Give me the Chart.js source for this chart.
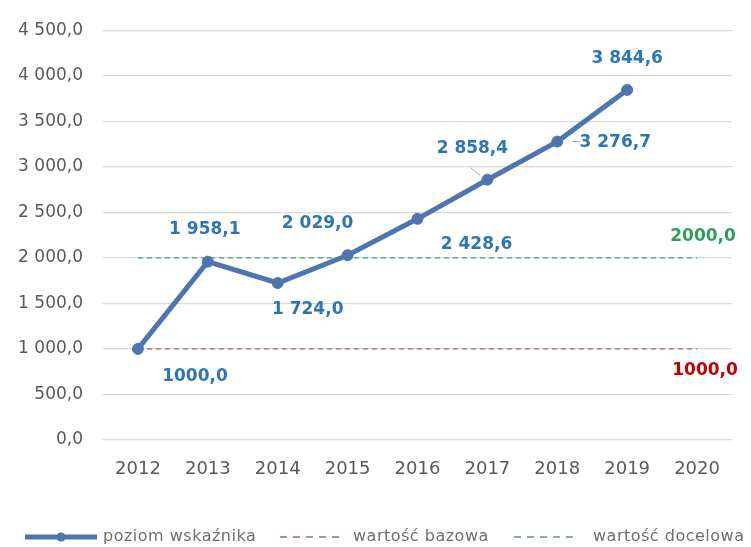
<!DOCTYPE html>
<html>
<head>
<meta charset="utf-8">
<script src="https://cdn.jsdelivr.net/npm/chart.js@4.4.1/dist/chart.umd.min.js"></script>
<style>
  html, body { margin: 0; padding: 0; background: #fff; }
  #wrap { width: 751px; height: 547px; }
</style>
</head>
<body>
<div id="wrap"><canvas id="chart" width="751" height="547"></canvas></div>
<script>
// chart data
const years = ["2012", "2013", "2014", "2015", "2016", "2017", "2018", "2019", "2020"];
const poziomWskaznika = [1000.0, 1958.1, 1724.0, 2029.0, 2428.6, 2858.4, 3276.7, 3844.6, null];
const wartoscBazowa = [1000, 1000, 1000, 1000, 1000, 1000, 1000, 1000, 1000];
const wartoscDocelowa = [2000, 2000, 2000, 2000, 2000, 2000, 2000, 2000, 2000];
const poziomLabels = ["1000,0", "1 958,1", "1 724,0", "2 029,0", "2 428,6", "2 858,4", "3 276,7", "3 844,6"];
const bazowaLabel = "1000,0";
const docelowaLabel = "2000,0";

const FONT = "'DejaVu Sans', 'Open Sans', sans-serif";
const TEXT_GREY = "#595959";
const LINE_BLUE = "#4e76ae";

// Polish number format with space grouping: 4 500,0
function plFormat(v) {
  const parts = Number(v).toFixed(1).split(".");
  const intPart = parts[0].replace(/\B(?=(\d{3})+(?!\d))/g, " ");
  return intPart + "," + parts[1];
}

// Where each data label sits relative to its point (px), plus optional leader line
const labelPlacement = [
  { dx: 57, dy: 28 },
  { dx: -3, dy: -32 },
  { dx: 30, dy: 27 },
  { dx: -30, dy: -32 },
  { dx: 59, dy: 26 },
  { dx: -15, dy: -31, leader: [[-17, -12], [-7, -4]] },
  { dx: 58, dy: 1, leader: [[15, 0], [23, 0]] },
  { dx: 0, dy: -31 }
];

const dataLabelPlugin = {
  id: "dataLabels",
  afterDatasetsDraw(chart) {
    const ctx = chart.ctx;
    ctx.save();
    ctx.textAlign = "center";
    ctx.textBaseline = "middle";
    ctx.font = "bold 17px " + FONT;

    const main = chart.getDatasetMeta(0).data;
    poziomLabels.forEach((txt, i) => {
      const pt = main[i];
      const pl = labelPlacement[i];
      if (pl.leader) {
        ctx.strokeStyle = "#a6a6a6";
        ctx.lineWidth = 1;
        ctx.beginPath();
        ctx.moveTo(pt.x + pl.leader[0][0], pt.y + pl.leader[0][1]);
        ctx.lineTo(pt.x + pl.leader[1][0], pt.y + pl.leader[1][1]);
        ctx.stroke();
      }
      ctx.fillStyle = "#2e75b6";
      ctx.fillText(txt, pt.x + pl.dx, pt.y + pl.dy);
    });

    const lastIdx = years.length - 1;
    const baseEnd = chart.getDatasetMeta(1).data[lastIdx];
    ctx.fillStyle = "#c00000";
    ctx.fillText(bazowaLabel, baseEnd.x + 8, baseEnd.y + 22);

    const targetEnd = chart.getDatasetMeta(2).data[lastIdx];
    ctx.fillStyle = "#2f9e5c";
    ctx.fillText(docelowaLabel, targetEnd.x + 6, targetEnd.y - 21);
    ctx.restore();
  }
};

// Excel-like legend along the bottom edge
const legendSlots = [
  { x0: 25, x1: 97, tx: 103 },
  { x0: 280, x1: 342, tx: 353 },
  { x0: 514, x1: 578, tx: 593 }
];

const bottomLegendPlugin = {
  id: "bottomLegend",
  afterDraw(chart) {
    const ctx = chart.ctx;
    const y = 537;
    ctx.save();
    chart.data.datasets.forEach((ds, i) => {
      const s = legendSlots[i];
      ctx.strokeStyle = ds.borderColor;
      ctx.lineWidth = ds.borderDash ? 1.6 : ds.borderWidth;
      ctx.setLineDash(ds.borderDash ? [7, 6] : []);
      ctx.beginPath();
      ctx.moveTo(s.x0, y);
      ctx.lineTo(s.x1, y);
      ctx.stroke();
      ctx.setLineDash([]);
      if (ds.pointRadius) {
        ctx.fillStyle = ds.borderColor;
        ctx.beginPath();
        ctx.arc((s.x0 + s.x1) / 2, y, 4.5, 0, Math.PI * 2);
        ctx.fill();
      }
      ctx.fillStyle = "#6f6f6f";
      ctx.font = "16px " + FONT;
      ctx.letterSpacing = "0.5px";
      ctx.textAlign = "left";
      ctx.textBaseline = "middle";
      ctx.fillText(ds.label, s.tx, y);
      ctx.letterSpacing = "0px";
    });
    ctx.restore();
  }
};

const ctx = document.getElementById("chart").getContext("2d");

new Chart(ctx, {
  type: "line",
  data: {
    labels: years,
    datasets: [
      {
        label: "poziom wskaźnika",
        data: poziomWskaznika,
        borderColor: LINE_BLUE,
        backgroundColor: LINE_BLUE,
        borderWidth: 5,
        pointRadius: 5.5,
        pointHoverRadius: 5.5,
        pointBorderWidth: 1,
        pointBackgroundColor: LINE_BLUE,
        pointBorderColor: LINE_BLUE,
        tension: 0
      },
      {
        label: "wartość bazowa",
        data: wartoscBazowa,
        borderColor: "#b9605a",
        backgroundColor: "#b9605a",
        borderWidth: 1.3,
        borderDash: [5, 4],
        pointRadius: 0
      },
      {
        label: "wartość docelowa",
        data: wartoscDocelowa,
        borderColor: "#46a46c",
        backgroundColor: "#46a46c",
        borderWidth: 1.3,
        borderDash: [5, 4],
        pointRadius: 0
      }
    ]
  },
  options: {
    responsive: false,
    animation: false,
    layout: { padding: { left: 0, right: 19, top: 18, bottom: 57 } },
    plugins: {
      legend: { display: false },
      tooltip: { enabled: false }
    },
    scales: {
      x: {
        offset: true,
        grid: { display: false, drawTicks: false },
        border: { display: false },
        ticks: {
          color: TEXT_GREY,
          font: { family: FONT, size: 18 },
          padding: 19
        },
        afterFit(scale) { scale.height = 50; }
      },
      y: {
        min: 0,
        max: 4500,
        grid: { color: "#d9d9d9", lineWidth: 1.3, drawTicks: false },
        border: { display: false },
        ticks: {
          stepSize: 500,
          color: TEXT_GREY,
          font: { family: FONT, size: 17 },
          padding: 20,
          callback: (v) => plFormat(v)
        },
        afterFit(scale) { scale.width = 103; }
      }
    }
  },
  plugins: [dataLabelPlugin, bottomLegendPlugin]
});
</script>
</body>
</html>
